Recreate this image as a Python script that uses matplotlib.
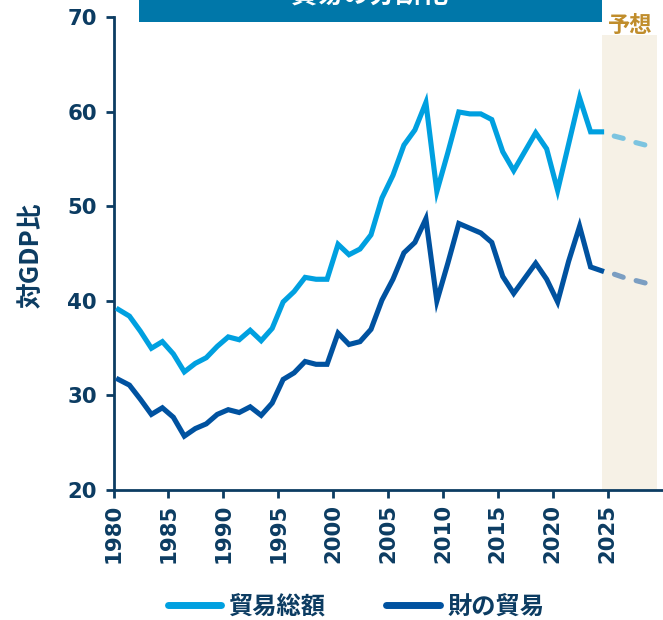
import matplotlib
matplotlib.use("Agg")
import matplotlib.pyplot as plt
from matplotlib.patches import Rectangle
import numpy as np

plt.rcParams['font.family'] = ['Noto Sans CJK JP', 'DejaVu Sans']

years = list(range(1980, 2025))
total_trade = [39.1, 38.4, 36.8, 35.0, 35.7, 34.4, 32.5, 33.4, 34.0, 35.2,
               36.2, 35.9, 36.9, 35.8, 37.1, 39.9, 41.0, 42.5, 42.3, 42.3,
               46.0, 44.9, 45.5, 47.0, 50.9, 53.3, 56.5, 58.1, 61.0, 51.6,
               55.7, 60.0, 59.8, 59.8, 59.2, 55.8, 53.8, 55.8, 57.8, 56.1,
               51.7, 56.6, 61.5, 57.9, 57.9]
goods_trade = [31.7, 31.1, 29.6, 28.0, 28.7, 27.7, 25.7, 26.5, 27.0, 28.0,
               28.5, 28.2, 28.8, 27.9, 29.2, 31.7, 32.4, 33.6, 33.3, 33.3,
               36.6, 35.4, 35.7, 37.0, 40.1, 42.3, 45.1, 46.2, 48.7, 40.0,
               44.0, 48.2, 47.7, 47.2, 46.2, 42.6, 40.8, 42.4, 44.0, 42.3,
               39.9, 44.2, 47.9, 43.6, 43.2]
fc_years = [2024, 2025, 2026, 2027, 2028, 2029]
fc_total = [57.9, 57.5, 57.2, 56.8, 56.5, 56.1]
fc_goods = [43.2, 42.9, 42.5, 42.2, 41.9, 41.6]

x_ticks = list(range(1980, 2030, 5))
y_ticks = [20, 30, 40, 50, 60, 70]
legend_labels = ['貿易総額', '財の貿易']
title_text = '貿易の分断化'
forecast_text = '予想'
ylabel_text = '対GDP比'

NAVY = '#0c3c62'
LIGHT = '#00a0e0'
DARK = '#0052a0'
LIGHT_FC = '#7cc4e0'
DARK_FC = '#7b9ec2'
SHADE = '#f6f1e6'
GOLD = '#c08d2c'
BOX = '#0077a9'

W, H = 663, 620
fig = plt.figure(figsize=(W / 100, H / 100), dpi=100)
ax = fig.add_axes([113.5 / W, 1 - 490 / H, (662.5 - 113.5) / W, (490 - 17.5) / H])

off = 0.45
xs = np.array(years) + off
xf = np.array(fc_years) + off

ax.fill_between([2024.5, 2029.5], 20, 68.2, color=SHADE, lw=0, zorder=0)

ax.plot(xs, total_trade, color=LIGHT, lw=3.7, solid_joinstyle='miter', zorder=3,
        label=legend_labels[0])
ax.plot(xs, goods_trade, color=DARK, lw=3.7, solid_joinstyle='miter', zorder=3,
        label=legend_labels[1])
dash = (1.8, (1.8, 2.6))
ax.plot(xf, fc_total, color=LIGHT_FC, lw=3.7, ls=dash,
        dash_capstyle='round', zorder=2)
ax.plot(xf, fc_goods, color=DARK_FC, lw=3.7, ls=dash,
        dash_capstyle='round', zorder=2)

ax.set_xlim(1980, 2030)
ax.set_ylim(20, 70)
ax.set_xticks(x_ticks)
ax.set_yticks(y_ticks)
ax.set_xticklabels([str(v) for v in x_ticks], rotation=90)

for s in ['top', 'right']:
    ax.spines[s].set_visible(False)
for s in ['left', 'bottom']:
    ax.spines[s].set_color(NAVY)
    ax.spines[s].set_linewidth(2.0)
ax.tick_params(axis='both', colors=NAVY, width=2.0, length=6, direction='out')
ax.tick_params(axis='y', pad=6)
ax.tick_params(axis='x', pad=4)
for lab in ax.get_xticklabels() + ax.get_yticklabels():
    lab.set_fontweight('bold')
    lab.set_color(NAVY)
    lab.set_fontsize(15.3)
    lab.set_family(['DejaVu Sans'])

ax.set_ylabel(ylabel_text, fontsize=18.5, fontweight='bold', color=NAVY)
ax.yaxis.set_label_coords(-0.125, 0.497)

fig.patches.append(Rectangle((139 / W, 1 - 21.7 / H), (602 - 139) / W, 21.7 / H,
                             transform=fig.transFigure, color=BOX, lw=0))
fig.text(370.5 / W, 1 + 5 / H, title_text, color='white', fontsize=19,
         fontweight='bold', ha='center', va='center')
fig.text(630 / W, 1 - 26 / H, forecast_text, color=GOLD, fontsize=16,
         fontweight='bold', style='italic', ha='center', va='center')

leg = fig.legend(loc='center', bbox_to_anchor=(356 / W, 1 - 607 / H), ncol=2,
                 frameon=False, fontsize=17.5, handlelength=2.2, columnspacing=2.5,
                 handletextpad=0.3)
for t in leg.get_texts():
    t.set_fontweight('bold')
    t.set_color(NAVY)
for h in leg.get_lines():
    h.set_linewidth(5)
    h.set_solid_capstyle('round')

fig.savefig('out.png', dpi=100)
